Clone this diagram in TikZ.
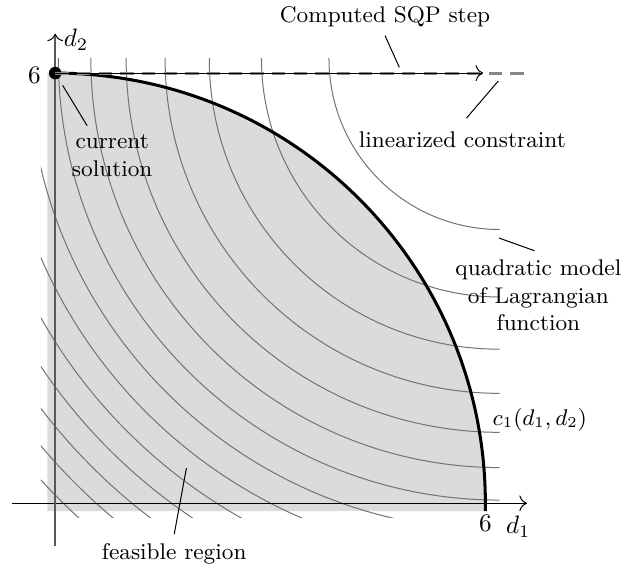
\documentclass[tikz,border=0pt]{standalone}
\usetikzlibrary{arrows.meta}

\begin{document}
\begin{tikzpicture}[font=\small,
  contour/.style={black!55, line width=0.4pt},
  leader/.style={line width=0.4pt},
  axlabel/.style={font=\fontsize{10.4}{12}\selectfont},
  dot/.style={circle, fill, inner sep=0pt, minimum size=5pt}]
  \useasboundingbox (-0.77,-0.93) rectangle (7.92,7.02);
  % feasible region
  \fill[black!14] (-0.11,-0.11) -- (6,-0.11) -- (6,0)
    arc[start angle=0, end angle=90, radius=6] -- (-0.11,6) -- cycle;
  % contours of the quadratic model
  \begin{scope}
    \clip (-0.2,-0.2) rectangle (6.2,6.2);
    \foreach \k in {1,...,14}
      \draw[contour] (6.2,6.2) circle ({sqrt(5.37*\k+0.3)});
  \end{scope}
  % axes
  \draw[-{To[length=3pt]}] (-0.6,0) -- (6.58,0);
  \draw[black!65, line width=0.7pt, -{To[length=3pt, color=black, line width=0.4pt]}] (0,-0.6) -- (0,6.55);
  \node[axlabel] (six1) at (-0.29,5.97) {$6$};
  \node[axlabel] (six2) at (6,-0.28) {$6$};
  \node[axlabel] (dd1) at (6.46,-0.33) {$d_1$};
  \node[axlabel] (dd2) at (0.29,6.46) {$d_2$};
  % constraint c_1
  \draw[line width=1.2pt] (6,-0.11) -- (6,0)
    arc[start angle=0, end angle=90, radius=6];
  \node (c1) at (6.76,1.17) {$c_1(d_1,d_2)$};
  % linearized constraint and step
  \node[dot] (cur) at (0,6) {};
  \coordinate (linend) at (6.56,6);
  \coordinate (stepend) at (5.97,6);
  \draw[black!47, line width=1.2pt, dash pattern=on 5.3pt off 3.3pt] (cur.center) -- (linend);
  \draw[-{To[length=3pt]}] (cur.center) -- (stepend);
  % labels with leaders
  \node (sqp) at (4.60,6.79) {Computed SQP step};
  \coordinate (sqppt) at (4.80,6.08);
  \draw[leader] (sqp.south) -- (sqppt);
  \node (lin) at (5.68,5.07) {linearized constraint};
  \coordinate (linpt) at (6.18,5.89);
  \draw[leader, shorten >=2.5pt] (linpt) -- (lin.north);
  \node[align=center] (cs) at (0.795,4.85) {current\\solution};
  \draw[leader, shorten <=3pt] (cur) -- (cs.130);
  \node[align=center] (qm) at (6.74,2.90) {quadratic model\\of Lagrangian\\function};
  \coordinate (qmpt) at (6.19,3.70);
  \draw[leader] (qmpt) -- (qm.95);
  \node (fr) at (1.66,-0.70) {feasible region};
  \coordinate (frpt) at (1.83,0.49);
  \draw[leader] (frpt) -- (fr.north);
\end{tikzpicture}
\end{document}
